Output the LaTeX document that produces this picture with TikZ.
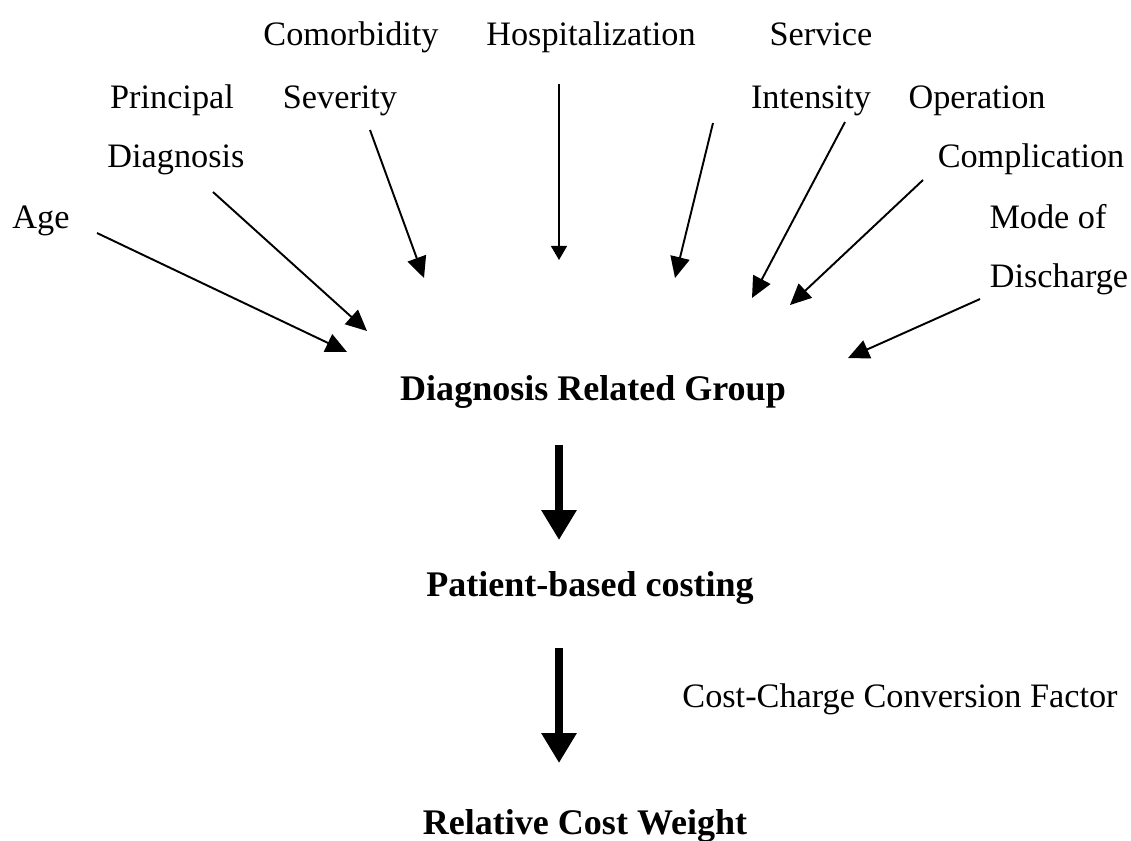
\documentclass[tikz,border=0pt]{standalone}
\usepackage{fontspec}
\setmainfont{Liberation Serif}
\usetikzlibrary{arrows.meta}
\begin{document}
\begin{tikzpicture}[x=0.02cm,y=-0.02cm,
  lbl/.style={anchor=base,inner sep=0pt,font=\fontsize{19.5}{23}\selectfont},
  blbl/.style={anchor=base,inner sep=0pt,font=\fontsize{20.5}{24}\selectfont\bfseries},
  thin/.style={line width=1.1pt,-{Triangle[length=12pt,width=11pt]}},
  thick/.style={line width=4.5pt,-{Triangle[length=17pt,width=19pt]}}]
\useasboundingbox (0,0) rectangle (1131,840);
% labels
\node[lbl] (como) at (351,45) {Comorbidity};
\node[lbl] (hosp) at (591,45) {Hospitalization};
\node[lbl] (serv) at (821,45) {Service};
\node[lbl] (prin) at (172,108) {Principal};
\node[lbl] (sev) at (340,108) {Severity};
\node[lbl] (inten) at (811,108) {Intensity};
\node[lbl] (oper) at (977,108) {Operation};
\node[lbl] (diag) at (176,167) {Diagnosis};
\node[lbl] (compl) at (1031,167) {Complication};
\node[lbl] (age) at (41,228) {Age};
\node[lbl] (mode) at (1048,228) {Mode of};
\node[lbl] (disc) at (1059,287) {Discharge};
\node[blbl] (drg) at (593,400) {Diagnosis Related Group};
\node[blbl] (pbc) at (590,596) {Patient-based costing};
\node[lbl] (ccc) at (900,707) {Cost-Charge Conversion Factor};
\node[blbl] (rcw) at (585,834) {Relative Cost Weight};
% arrow end points
\coordinate (a1) at (97,233);  \coordinate (b1) at (347,352);
\coordinate (a2) at (213,192); \coordinate (b2) at (367,331);
\coordinate (a3) at (370,130); \coordinate (b3) at (424,278);
\coordinate (a4) at (559,84);  \coordinate (b4) at (559,260);
\coordinate (a5) at (713,123); \coordinate (b5) at (675,278);
\coordinate (a6) at (845,122); \coordinate (b6) at (752,298);
\coordinate (a7) at (923,180); \coordinate (b7) at (790,305);
\coordinate (a8) at (980,299); \coordinate (b8) at (848,358);
\coordinate (t1) at (559,445); \coordinate (u1) at (559,540);
\coordinate (t2) at (559,648); \coordinate (u2) at (559,763);
\draw[thin] (a1) -- (b1);
\draw[thin] (a2) -- (b2);
\draw[thin] (a3) -- (b3);
\draw[line width=1.1pt,-{Triangle[length=8pt,width=9pt]}] (a4) -- (b4);
\draw[thin] (a5) -- (b5);
\draw[thin] (a6) -- (b6);
\draw[thin] (a7) -- (b7);
\draw[thin] (a8) -- (b8);
\draw[thick] (t1) -- (u1);
\draw[thick] (t2) -- (u2);
\end{tikzpicture}
\end{document}
